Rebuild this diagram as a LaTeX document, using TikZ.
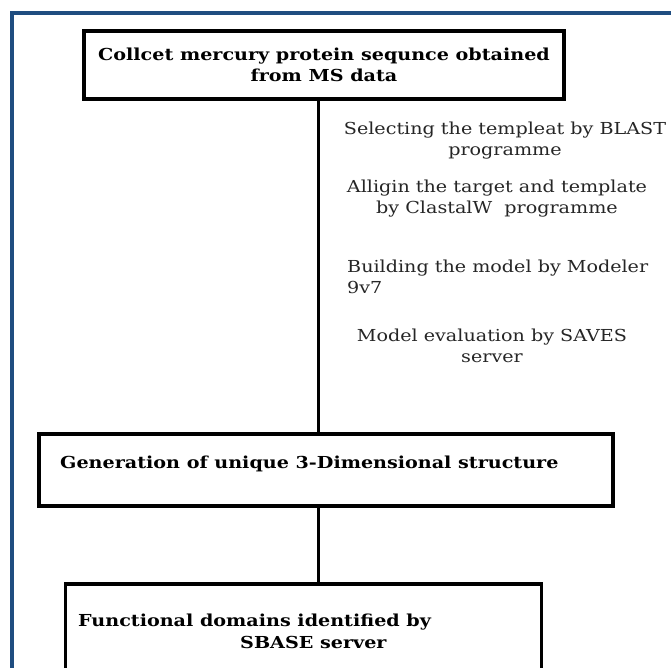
\documentclass[tikz,border=0pt]{standalone}
\usepackage{fontspec}
\setmainfont{DejaVu Serif}[FakeStretch=1.16]
\definecolor{frameblue}{RGB}{31,77,128}
\tikzset{
  box/.style={draw=black, line width=3.5pt, fill=white, inner sep=0pt},
  conn/.style={draw=black, line width=3pt},
  boldtxt/.style={font=\fontsize{16.5}{21.5}\selectfont\bfseries, inner sep=0pt},
  sidetxt/.style={font=\fontsize{16.5}{21}\selectfont, inner sep=0pt, text=black!85},
}
\begin{document}
\begin{tikzpicture}[x=1pt,y=-1pt]
\useasboundingbox (0,0) rectangle (671,668);
\clip (0,0) rectangle (671,668);
\fill[white] (0,0) rectangle (671,668);
\draw[frameblue, line width=4pt] (12,13.5) rectangle (720,720);
\coordinate (cx) at (318,0);
\node[box, minimum width=480pt, minimum height=68pt, align=center, boldtxt] (b1) at (324,65)
  {Collcet mercury protein sequnce obtained\\from MS data};
\node[box, minimum width=574pt, minimum height=72pt] (b2) at (326,470) {};
\node[boldtxt, anchor=west] (t2) at (60,464) {Generation of unique 3-Dimensional structure};
\node[box, minimum width=476pt, minimum height=120pt] (b3) at (303.5,644) {};
\node[boldtxt, anchor=north west, align=left] (t3) at (78,614)
  {Functional domains identified by\\\hspace*{162pt}SBASE server};
\draw[conn] (b1.south -| cx) -- (b2.north -| cx);
\draw[conn] (b2.south -| cx) -- (b3.north -| cx);
\node[sidetxt, align=center] (s1) at (505,141) {Selecting the templeat by BLAST\\programme};
\node[sidetxt, align=center] (s2) at (497,199) {Alligin the target and template\\by ClastalW\ \ programme};
\node[sidetxt, align=left, anchor=west] (s3) at (347,277) {Building the model by Modeler\\9v7};
\node[sidetxt, align=center] (s4) at (492,346) {Model evaluation by SAVES\\server};
\end{tikzpicture}
\end{document}
